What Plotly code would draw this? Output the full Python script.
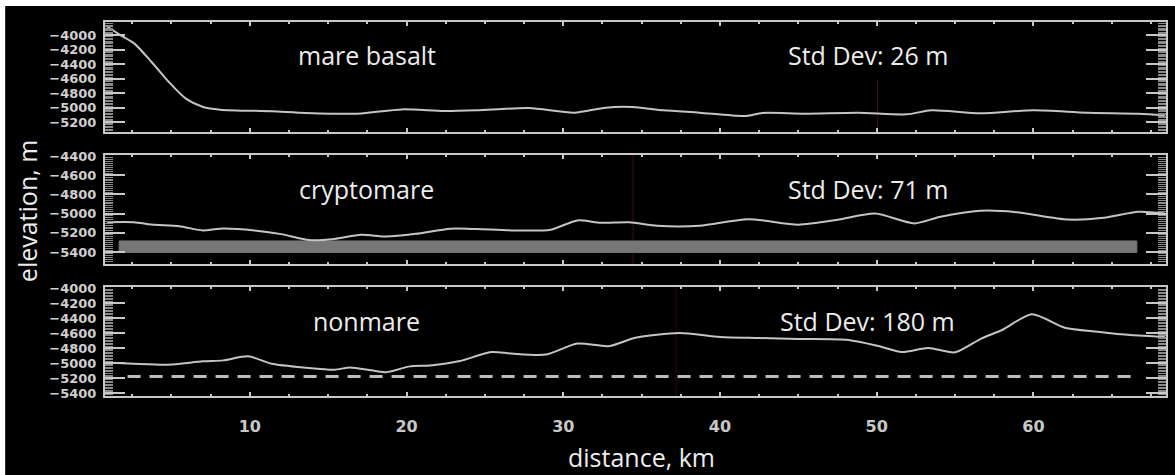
import plotly.graph_objects as go

# ---------------- data ----------------
mare_km = [0.78, 1.76, 2.64, 3.73, 4.83, 5.92, 7.02, 8.11, 11.4, 13.6, 16.9, 19.7, 22.4, 24.5,
           27.8, 30.7, 32.7, 34.4, 36.4, 38.7, 41.6, 42.7, 45.4, 48.8, 51.9, 53.5, 56.6, 60.0,
           63.4, 66.7, 68.4]
mare_elev = [-3862, -4000, -4115, -4369, -4646, -4877, -4992, -5029, -5052, -5075, -5085, -5025,
             -5048, -5038, -5006, -5071, -5001, -4992, -5038, -5071, -5117, -5075, -5085, -5071,
             -5094, -5038, -5080, -5038, -5071, -5085, -5108]

crypto_km = [0.9, 2.6, 3.75, 5.5, 7.0, 8.1, 10.3, 12.0, 13.8, 15.4, 17.1, 18.7, 20.6, 22.8, 24.5,
             26.7, 29.2, 30.9, 32.4, 34.2, 36.0, 38.7, 41.8, 45.0, 47.6, 49.9, 52.4, 54.0, 56.6,
             58.9, 62.2, 64.5, 66.7, 68.4]
crypto_elev = [-5089, -5089, -5114, -5132, -5175, -5157, -5175, -5214, -5275, -5264, -5221, -5239,
               -5211, -5157, -5161, -5175, -5168, -5071, -5096, -5090, -5127, -5127, -5058, -5116,
               -5062, -5000, -5102, -5036, -4971, -4985, -5062, -5044, -4982, -5000]

non_km = [1.1, 2.6, 4.8, 7.0, 8.3, 9.9, 11.4, 13.6, 15.4, 16.4, 18.7, 20.2, 21.5, 23.4, 25.4, 26.7,
          28.9, 30.9, 32.9, 34.6, 37.4, 40.0, 42.5, 45.0, 48.2, 50.1, 51.6, 53.3, 55.0, 56.7, 58.0,
          59.9, 62.0, 64.1, 66.2, 68.4]
non_elev = [-4996, -5010, -5023, -4978, -4965, -4911, -5010, -5063, -5090, -5059, -5122, -5045,
            -5032, -4974, -4853, -4875, -4888, -4740, -4776, -4664, -4600, -4653, -4667, -4680,
            -4693, -4773, -4853, -4800, -4858, -4671, -4560, -4351, -4529, -4582, -4627, -4653]

# gray band in cryptomare panel, dashed reference in nonmare panel
band_km = [1.66, 66.6]
band_elev = [-5285, -5405]
dash_km = [2.2, 66.4]
dash_elev = -5180

panel_names = ["mare basalt", "cryptomare", "nonmare"]
std_labels = ["Std Dev: 26 m", "Std Dev: 71 m", "Std Dev: 180 m"]
x_ticks = [10, 20, 30, 40, 50, 60]
y_ticks_1 = [-4000, -4200, -4400, -4600, -4800, -5000, -5200]
y_ticks_2 = [-4400, -4600, -4800, -5000, -5200, -5400]
y_ticks_3 = [-4000, -4200, -4400, -4600, -4800, -5000, -5200, -5400]

# ---------------- styling ----------------
LINE = "#c4c4c4"
FRAME = "#c8c8c8"
TICKFONT = dict(family="DejaVu Sans", size=13, color="#cfcfcf", weight="bold")
TXT = dict(family="Open Sans", size=25, color="#ececec")

fig = go.Figure()

# band (cryptomare)
fig.add_trace(go.Scatter(
    x=[band_km[0], band_km[1], band_km[1], band_km[0], band_km[0]],
    y=[band_elev[0], band_elev[0], band_elev[1], band_elev[1], band_elev[0]],
    fill="toself", fillcolor="#767676", line=dict(color="#767676", width=1),
    mode="lines", xaxis="x2", yaxis="y2", hoverinfo="skip"))

fig.add_trace(go.Scatter(x=mare_km, y=mare_elev, mode="lines",
                         line=dict(color=LINE, width=2, shape="spline", smoothing=0.7),
                         xaxis="x", yaxis="y"))
fig.add_trace(go.Scatter(x=crypto_km, y=crypto_elev, mode="lines",
                         line=dict(color=LINE, width=2, shape="spline", smoothing=0.7),
                         xaxis="x2", yaxis="y2"))
fig.add_trace(go.Scatter(x=non_km, y=non_elev, mode="lines",
                         line=dict(color=LINE, width=2, shape="spline", smoothing=0.7),
                         xaxis="x3", yaxis="y3"))
fig.add_trace(go.Scatter(x=dash_km, y=[dash_elev, dash_elev], mode="lines",
                         line=dict(color="#bdbdbd", width=3, dash="13px,9px"),
                         xaxis="x3", yaxis="y3"))

# ---------------- layout ----------------
L, R, T, B = 105, 7, 22, 79
W, H = 1175, 475
PW, PH = W - L - R, H - T - B


def py(ypix):
    return (H - B - ypix) / PH


def px(xpix):
    return (xpix - L) / PW


domains = [[py(132), py(22)], [py(264), py(155)], [py(396), py(287)]]
y_ranges = [[-5338, -3816], [-5525, -4390], [-5440, -3987]]
y_ticks = [y_ticks_1, y_ticks_2, y_ticks_3]
x_range = [0.76, 68.46]

layout = dict(
    width=W, height=H,
    margin=dict(l=L, r=R, t=T, b=B, pad=0),
    paper_bgcolor="white", plot_bgcolor="black",
    showlegend=False,
)
for i in range(3):
    sfx = "" if i == 0 else str(i + 1)
    layout["xaxis" + sfx] = dict(
        range=x_range, domain=[0, 1], anchor="y" + sfx,
        showgrid=False, zeroline=False,
        showline=True, linecolor=FRAME, linewidth=2, mirror="ticks",
        tickvals=x_ticks, ticks="inside", ticklen=4, tickcolor=FRAME, tickwidth=2,
        minor=dict(ticks="inside", dtick=2.5, tick0=0, ticklen=2, tickcolor=FRAME),
        showticklabels=(i == 2),
        tickfont=dict(family="DejaVu Sans", size=16, color="#c8c8c8", weight="bold"),
        ticklabelstandoff=15,
    )
    layout["yaxis" + sfx] = dict(
        range=y_ranges[i], domain=domains[i], anchor="x" + sfx,
        showgrid=False, zeroline=False,
        showline=True, linecolor=FRAME, linewidth=2, mirror="ticks",
        tickvals=y_ticks[i], ticks="inside", ticklen=20, tickcolor=FRAME, tickwidth=1.5,
        minor=dict(ticks="inside", dtick=20, ticklen=8, tickcolor="#8a8a8a", tickwidth=1),
        tickfont=TICKFONT, ticklabelstandoff=4,
    )
fig.update_layout(**layout)

# background: black card with thin white border at top / left
fig.add_shape(type="rect", xref="paper", yref="paper",
              x0=px(5), x1=px(W + 20), y0=py(H + 20), y1=py(6),
              fillcolor="black", line=dict(width=0), layer="below")

# faint red artefact lines
fig.add_shape(type="line", xref="x", yref="y domain", x0=50.06, x1=50.06, y0=0, y1=0.48,
              line=dict(color="#4a0a0a", width=1), layer="below")
fig.add_shape(type="line", xref="x2", yref="y2 domain", x0=34.46, x1=34.46, y0=0, y1=1,
              line=dict(color="#4a0a0a", width=1), layer="below")
fig.add_shape(type="line", xref="x3", yref="y3 domain", x0=37.2, x1=37.2, y0=0, y1=1,
              line=dict(color="#3a0808", width=1), layer="below")

# panel texts
text_y = [55, 189, 321]
for i in range(3):
    fig.add_annotation(xref="paper", yref="paper", x=px(367), y=py(text_y[i]),
                       text=panel_names[i], showarrow=False, font=TXT,
                       xanchor="center", yanchor="middle")
    fig.add_annotation(xref="paper", yref="paper", x=px(869), y=py(text_y[i]),
                       text=std_labels[i], showarrow=False, font=TXT,
                       xanchor="center", yanchor="middle")

# axis titles
fig.add_annotation(xref="paper", yref="paper", x=px(27), y=py(211),
                   text="elevation, m", showarrow=False, textangle=-90,
                   font=dict(family="Open Sans", size=25, color="#ececec"),
                   xanchor="center", yanchor="middle")
fig.add_annotation(xref="paper", yref="paper", x=px(643), y=py(457),
                   text="distance, km", showarrow=False,
                   font=dict(family="Open Sans", size=25, color="#ececec"),
                   xanchor="center", yanchor="middle")

fig.write_html("out.html",
               config={"displayModeBar": False},
               post_script="document.body.style.margin='0';document.body.style.overflow='hidden';")
